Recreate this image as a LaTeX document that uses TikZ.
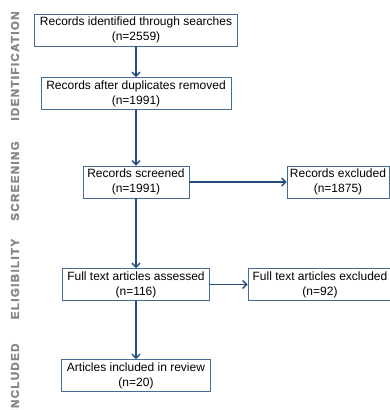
\documentclass[tikz,border=0pt]{standalone}
\usepackage{fontspec}
\setmainfont{Liberation Sans}
\newfontfamily\phasefamily[LetterSpace=12,FakeBold=2.5]{Liberation Sans Bold}
\usetikzlibrary{arrows.meta}
\definecolor{boxblue}{RGB}{70,108,150}
\definecolor{arrowblue}{RGB}{36,76,124}
\definecolor{phasegray}{RGB}{135,135,135}
\begin{document}
\begin{tikzpicture}[x=1pt,y=-1pt,
		stagebox/.style={draw=boxblue,line width=0.9pt,align=center,inner sep=1pt,minimum height=32pt,font=\fontsize{12}{15}\selectfont},
		flow/.style={draw=arrowblue,line width=1.4pt,-{Straight Barb[length=4pt,width=8pt,line width=1.3pt]}},
		phase/.style={rotate=90,text=phasegray,font=\phasefamily\fontsize{11.5}{13}\selectfont}]
		\useasboundingbox (0,0) rectangle (390,410);
		% phase labels
		\node[phase] (lid) at (15,66) {IDENTIFICATION};
		\node[phase] (lsc) at (15,181) {SCREENING};
		\node[phase] (lel) at (15,279) {ELIGIBILITY};
		\node[phase] (lin) at (15,378) {INCLUDED};
		% boxes
		\node[stagebox,minimum width=203pt] (found) at (136,30) {Records identified through searches\\(n=2559)};
		\node[stagebox,minimum width=190pt] (nodup) at (136,93.5) {Records after duplicates removed\\(n=1991)};
		\node[stagebox,minimum width=106pt] (screen) at (136,182) {Records screened\\(n=1991)};
		\node[stagebox,minimum width=102pt] (excl) at (338,182) {Records excluded\\(n=1875)};
		\node[stagebox,minimum width=147pt] (full) at (136,284.5) {Full text articles assessed\\(n=116)};
		\node[stagebox,minimum width=144pt] (fullex) at (320,284.5) {Full text articles excluded\\(n=92)};
		\node[stagebox,minimum width=149pt] (incl) at (136,375.5) {Articles included in review\\(n=20)};
		% arrows
		\draw[flow] (found) -- (nodup);
		\draw[flow] (nodup) -- (screen);
		\draw[flow] (screen) -- (excl);
		\draw[flow] (screen) -- (full);
		\draw[flow] (full) -- (fullex);
		\draw[flow] (full) -- (incl);
\end{tikzpicture}
\end{document}
